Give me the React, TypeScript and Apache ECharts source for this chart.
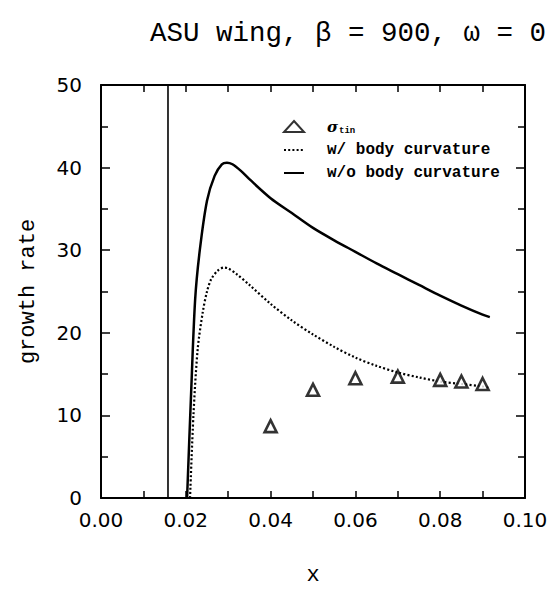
import React, { useEffect, useRef } from "react";
import * as echarts from "echarts";

// Growth-rate curves along x
const woX = [0.0203, 0.0212, 0.0222, 0.0233, 0.025, 0.0268, 0.0285, 0.0297, 0.031, 0.033, 0.035, 0.04, 0.045, 0.05, 0.055, 0.06, 0.065, 0.07, 0.075, 0.08, 0.085, 0.09, 0.0917];
const woY = [0, 12, 24, 30, 36, 39, 40.4, 40.6, 40.4, 39.6, 38.6, 36.3, 34.5, 32.7, 31.2, 29.8, 28.4, 27.1, 25.8, 24.5, 23.3, 22.2, 21.9];

const wX = [0.021, 0.0218, 0.0228, 0.024, 0.025, 0.026, 0.0275, 0.029, 0.03, 0.032, 0.035, 0.04, 0.045, 0.05, 0.055, 0.06, 0.065, 0.07, 0.075, 0.08, 0.085, 0.09, 0.0917];
const wY = [0, 10, 18, 22.5, 25.0, 26.5, 27.5, 27.9, 27.8, 27.1, 25.8, 23.5, 21.5, 19.8, 18.3, 17.0, 16.0, 15.2, 14.6, 14.1, 13.8, 13.5, 13.3];

const sigmaX = [0.04, 0.05, 0.06, 0.07, 0.08, 0.085, 0.09];
const sigmaY = [8.7, 13.1, 14.5, 14.7, 14.3, 14.1, 13.8];

// Vertical reference line position
const xRef = 0.0158;

const xTicks = [0, 0.02, 0.04, 0.06, 0.08, 0.1];
const yTicks = [0, 10, 20, 30, 40, 50];

const SIGMA = "σ_tin";
const WITH = "w/ body curvature";
const WITHOUT = "w/o body curvature";

const pair = (xs: number[], ys: number[]) => xs.map((x, i) => [x, ys[i]]);

export default function App() {
  const ref = useRef<HTMLDivElement>(null);

  useEffect(() => {
    if (!ref.current) return;
    const chart = echarts.init(ref.current, null, { renderer: "svg" });
    const mono = "Liberation Mono";
    const tickFont = "DejaVu Sans";
    const axisLine = { show: true, onZero: false, lineStyle: { color: "#000", width: 2 } };
    const tick = { show: true, inside: true, length: 7, lineStyle: { color: "#000", width: 1.5 } };
    const minor = { show: true, splitNumber: 2, length: 7, lineStyle: { color: "#000", width: 1.5 } };
    const hideSymbol = { color: "transparent", borderWidth: 0, opacity: 0 };

    chart.setOption({
      animation: false,
      backgroundColor: "#fff",
      title: {
        text: "ASU wing, β = 900, ω = 0",
        left: 145,
        top: 14,
        textStyle: { fontFamily: mono, fontSize: 27.5, fontWeight: "normal", color: "#000" },
      },
      grid: { left: 101, right: 34, top: 85, bottom: 91, containLabel: false },
      legend: {
        data: [
          { name: SIGMA },
          { name: WITH, itemStyle: hideSymbol },
          { name: WITHOUT, itemStyle: hideSymbol },
        ],
        orient: "vertical",
        left: 278,
        top: 114,
        itemWidth: 20,
        itemHeight: 11,
        itemGap: 7,
        textStyle: {
          fontFamily: mono,
          fontWeight: "bold",
          fontSize: 16,
          color: "#000",
          padding: [0, 0, 0, 18],
          rich: {
            g: { fontFamily: "DejaVu Serif", fontStyle: "italic", fontWeight: "bold", fontSize: 15, color: "#000" },
            sub: { fontFamily: mono, fontSize: 9, fontWeight: "bold", color: "#000", padding: [8, 0, 0, 1] },
          },
        },
        formatter: (name: string) => (name === SIGMA ? "{g|σ}{sub|tin}" : name),
      },
      xAxis: [
        {
          type: "value",
          position: "bottom",
          min: xTicks[0],
          max: xTicks[xTicks.length - 1],
          interval: 0.02,
          axisLine,
          axisTick: tick,
          minorTick: minor,
          splitLine: { show: false },
          axisLabel: {
            margin: 12,
            fontFamily: tickFont,
            fontSize: 20,
            color: "#000",
            formatter: (v: number) => v.toFixed(2),
          },
          name: "x",
          nameLocation: "middle",
          nameGap: 66,
          nameTextStyle: { fontFamily: mono, fontSize: 22, color: "#000" },
        },
        {
          type: "value",
          position: "top",
          min: xTicks[0],
          max: xTicks[xTicks.length - 1],
          interval: 0.02,
          axisLine,
          axisTick: tick,
          minorTick: minor,
          splitLine: { show: false },
          axisLabel: { show: false },
        },
      ],
      yAxis: [
        {
          type: "value",
          position: "left",
          min: yTicks[0],
          max: yTicks[yTicks.length - 1],
          interval: 10,
          axisLine,
          axisTick: { ...tick, length: 9 },
          minorTick: minor,
          splitLine: { show: false },
          axisLabel: { margin: 19, fontFamily: tickFont, fontSize: 20, color: "#000" },
          name: "growth rate",
          nameLocation: "middle",
          nameGap: 62,
          nameTextStyle: { fontFamily: mono, fontSize: 22, color: "#000" },
        },
        {
          type: "value",
          position: "right",
          min: yTicks[0],
          max: yTicks[yTicks.length - 1],
          interval: 10,
          axisLine,
          axisTick: { ...tick, length: 9 },
          minorTick: minor,
          splitLine: { show: false },
          axisLabel: { show: false },
        },
      ],
      series: [
        {
          name: "ref",
          type: "line",
          data: [[xRef, yTicks[0]], [xRef, yTicks[yTicks.length - 1]]],
          symbol: "none",
          lineStyle: { color: "#000", width: 1.6 },
          silent: true,
        },
        {
          name: WITHOUT,
          type: "line",
          data: pair(woX, woY),
          smooth: 0.3,
          symbol: "none",
          lineStyle: { color: "#000", width: 2.5 },
          itemStyle: { color: "#000" },
        },
        {
          name: WITH,
          type: "line",
          data: pair(wX, wY),
          smooth: 0.3,
          symbol: "none",
          lineStyle: { color: "#000", width: 2.2, type: [2, 2.2] },
          itemStyle: { color: "#000" },
        },
        {
          name: SIGMA,
          type: "scatter",
          data: pair(sigmaX, sigmaY),
          symbol: "triangle",
          symbolSize: 12,
          itemStyle: { color: "#fff", borderColor: "#000", borderWidth: 2.6 },
          z: 5,
        },
      ],
    });
    return () => chart.dispose();
  }, []);

  return <div ref={ref} style={{ width: 559, height: 591, margin: -8 }} />;
}
